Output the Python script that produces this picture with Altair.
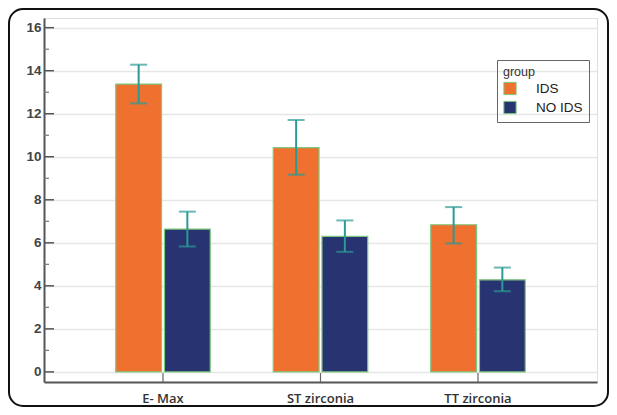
import altair as alt
import pandas as pd

categories = ["E- Max", "ST zirconia", "TT zirconia"]
groups = ["IDS", "NO IDS"]
ids_mean = [13.38, 10.42, 6.84]
ids_low = [12.48, 9.16, 5.97]
ids_high = [14.28, 11.71, 7.66]
noids_mean = [6.64, 6.30, 4.28]
noids_low = [5.83, 5.58, 3.75]
noids_high = [7.45, 7.04, 4.85]
major_ticks = [0, 2, 4, 6, 8, 10, 12, 14, 16]
minor_ticks = [1, 3, 5, 7, 9, 11, 13, 15]

rows = []
for i, c in enumerate(categories):
    rows.append({"cat": c, "group": "IDS", "mean": ids_mean[i], "lo": ids_low[i], "hi": ids_high[i]})
    rows.append({"cat": c, "group": "NO IDS", "mean": noids_mean[i], "lo": noids_low[i], "hi": noids_high[i]})
df = pd.DataFrame(rows)

W, H = 553, 364
ydom = [-0.47, 16.45]

xscale = alt.Scale(domain=categories, paddingInner=0.4, paddingOuter=0.4556)
yscale = alt.Scale(domain=ydom, nice=False, zero=False)
offscale = alt.Scale(domain=groups, paddingInner=0.06, paddingOuter=0)
color_scale = alt.Scale(domain=groups, range=["#F07030", "#283371"])

base = alt.Chart(df)

bars = base.mark_bar(stroke="#7cc87c", strokeWidth=1.2).encode(
    x=alt.X("cat:N", scale=xscale, sort=categories,
            axis=alt.Axis(title=None, labelAngle=0, ticks=False, domainColor="#555555",
                          domainWidth=2, labelFont="Open Sans", labelFontSize=13,
                          labelFontWeight=600, labelColor="#333333", labelPadding=10)),
    xOffset=alt.XOffset("group:N", scale=offscale, sort=groups),
    y=alt.Y("mean:Q", scale=yscale,
            axis=alt.Axis(title=None, values=major_ticks, ticks=False, grid=True,
                          gridColor="#e6e6e6", gridWidth=1.5, domainColor="#555555",
                          domainWidth=2, labelFont="Arial", labelFontSize=13.5,
                          labelFontWeight="bold", labelColor="#444444", labelPadding=3)),
    y2=alt.Y2(datum=0),
    color=alt.Color("group:N", scale=color_scale, sort=groups,
                    legend=alt.Legend(title="group", orient="none", legendX=453, legendY=42,
                                      strokeColor="#666666", padding=6,
                                      titleFont="Arial", titleFontSize=12.5,
                                      titleFontWeight="normal", titleColor="#333333",
                                      labelFont="Arial", labelFontSize=13.5,
                                      labelColor="#222222", symbolType="square",
                                      symbolSize=150, symbolStrokeColor="#7cc87c",
                                      symbolStrokeWidth=1, rowPadding=1,
                                      labelOffset=19, titlePadding=3)),
)

err_color = "#2a9a96"
err = base.mark_rule(color=err_color, strokeWidth=2).encode(
    x=alt.X("cat:N", scale=xscale, sort=categories),
    xOffset=alt.XOffset("group:N", scale=offscale, sort=groups),
    y=alt.Y("lo:Q", scale=yscale),
    y2="hi:Q",
)
cap_hi = base.mark_tick(color=err_color, thickness=2, size=17).encode(
    x=alt.X("cat:N", scale=xscale, sort=categories),
    xOffset=alt.XOffset("group:N", scale=offscale, sort=groups),
    y=alt.Y("hi:Q", scale=yscale),
)
cap_lo = base.mark_tick(color=err_color, thickness=2, size=17).encode(
    x=alt.X("cat:N", scale=xscale, sort=categories),
    xOffset=alt.XOffset("group:N", scale=offscale, sort=groups),
    y=alt.Y("lo:Q", scale=yscale),
)

maj = alt.Chart(pd.DataFrame({"v": major_ticks})).mark_rule(color="#555555", strokeWidth=1.5).encode(
    y=alt.Y("v:Q", scale=yscale), x=alt.value(0), x2=alt.value(10))
mino = alt.Chart(pd.DataFrame({"v": minor_ticks})).mark_rule(color="#777777", strokeWidth=1.2).encode(
    y=alt.Y("v:Q", scale=yscale), x=alt.value(0), x2=alt.value(5))
xt = alt.Chart(pd.DataFrame({"cat": categories})).mark_rule(color="#666666", strokeWidth=1.2).encode(
    x=alt.X("cat:N", scale=xscale, sort=categories), y=alt.value(H), y2=alt.value(H - 9))

frame = alt.Chart(pd.DataFrame({"a": [0]})).mark_rect(
    fillOpacity=0, stroke="#111111", strokeWidth=2, cornerRadius=14).encode(
    x=alt.value(-35), x2=alt.value(564), y=alt.value(-9), y2=alt.value(388))

chart = alt.layer(frame, bars, err, cap_hi, cap_lo, maj, mino, xt).properties(
    width=W, height=H,
    autosize=alt.AutoSizeParams(type="none"),
    padding={"left": 36, "top": 10, "right": 12, "bottom": 25},
).configure_view(stroke=None).configure_legend(strokeWidth=1.5).configure(background="white")

chart.save("out.html", embed_options={"renderer": "svg", "actions": False})
